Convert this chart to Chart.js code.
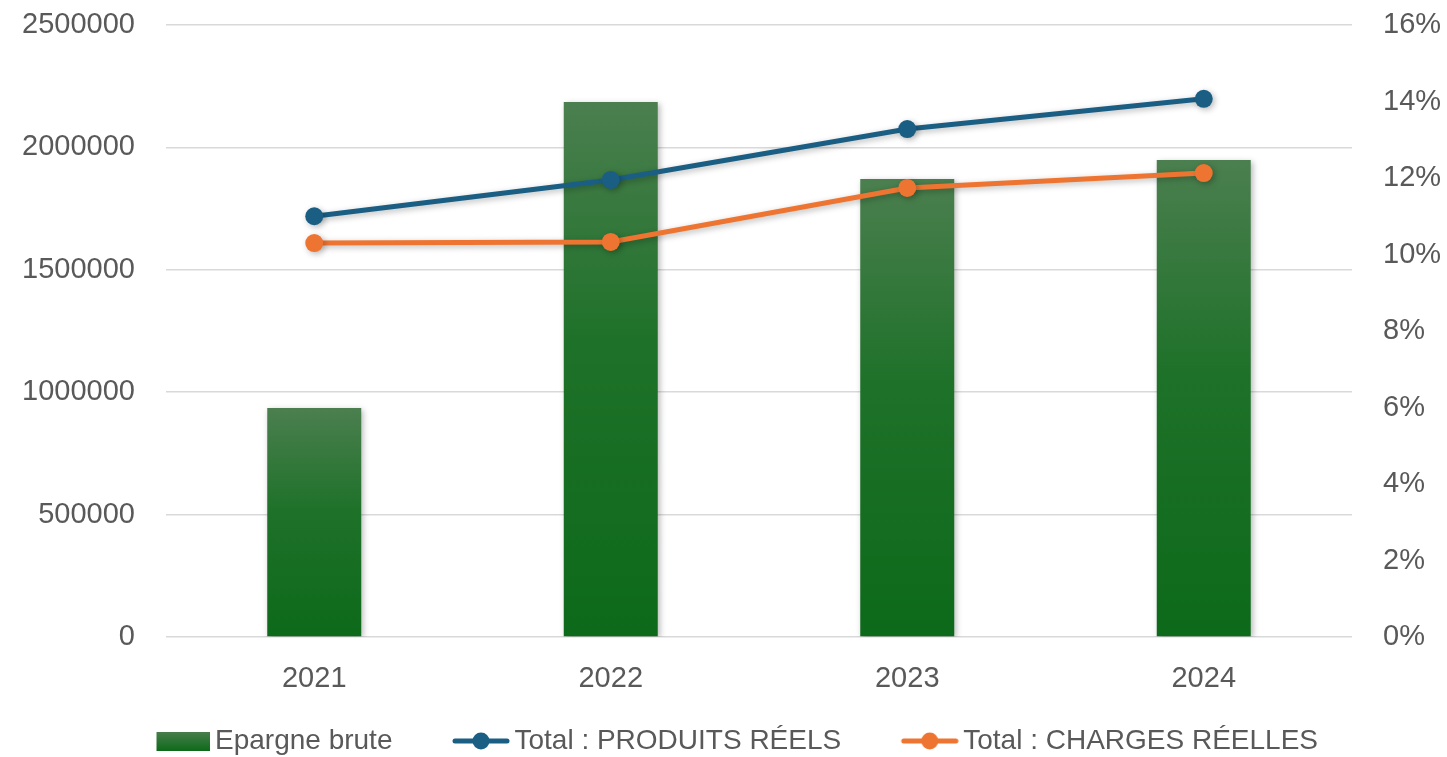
<!DOCTYPE html>
<html>
<head>
<meta charset="utf-8">
<script src="https://cdn.jsdelivr.net/npm/chart.js@4.4.1/dist/chart.umd.min.js"></script>
<style>
html,body{margin:0;padding:0;background:#fff;}
#wrap{width:1447px;height:757px;position:relative;}
</style>
</head>
<body>
<div id="wrap"><canvas id="c" width="1447" height="757"></canvas></div>
<script>
const categories = ['2021', '2022', '2023', '2024'];
const epargneBrute = [935000, 2185000, 1871000, 1949000];
const produitsReels = [11.0, 11.95, 13.28, 14.07];
const chargesReelles = [10.3, 10.33, 11.74, 12.13];
const leftTicks = [0, 500000, 1000000, 1500000, 2000000, 2500000];
const rightTicks = [0, 2, 4, 6, 8, 10, 12, 14, 16];

const GREEN_TOP = '#4b7f4f';
const GREEN_BOT = '#0d6a1a';
const BLUE = '#1b5e84';
const ORANGE = '#ee7531';
const TXT = '#595959';
const FONT = "'Liberation Sans', Arial, sans-serif";
const LEG_B = 96;           // legend slot width
const LEG_W = LEG_B + 19;   // legend image width

function legendImage(kind, color) {
  const c = document.createElement('canvas');
  c.width = LEG_W; c.height = 24;
  const x = c.getContext('2d');
  if (kind === 'box') {
    const g = x.createLinearGradient(0, 2, 0, 22);
    g.addColorStop(0, GREEN_TOP); g.addColorStop(1, GREEN_BOT);
    x.fillStyle = g; x.fillRect(LEG_W - 54, 3, 54, 19);
  } else {
    const x0 = LEG_W - 58;
    x.strokeStyle = color; x.lineWidth = 5; x.lineCap = 'round';
    x.beginPath(); x.moveTo(x0 + 3, 12); x.lineTo(x0 + 55, 12); x.stroke();
    x.fillStyle = color; x.beginPath(); x.arc(x0 + 29, 12, 8.5, 0, Math.PI * 2); x.fill();
  }
  return c;
}

const shadowPlugin = {
  id: 'shadow',
  afterLayout(chart) {
    if (chart.legend) { chart.legend.left -= 12; chart.legend.right -= 12; }
  },
  beforeDatasetDraw(chart) {
    const ctx = chart.ctx;
    ctx.save();
    ctx.shadowColor = 'rgba(0,0,0,0.28)';
    ctx.shadowBlur = 6;
    ctx.shadowOffsetX = 2;
    ctx.shadowOffsetY = 2;
  },
  afterDatasetDraw(chart) { chart.ctx.restore(); }
};

function barGradient(context) {
  const chart = context.chart;
  const area = chart.chartArea;
  if (!area || context.type !== 'data') return GREEN_BOT;
  const ys = chart.scales.y;
  const top = ys.getPixelForValue(context.raw);
  const bot = ys.getPixelForValue(0);
  const g = chart.ctx.createLinearGradient(0, top, 0, bot);
  g.addColorStop(0, GREEN_TOP);
  g.addColorStop(0.45, '#1e7129');
  g.addColorStop(1, GREEN_BOT);
  return g;
}

new Chart(document.getElementById('c'), {
  data: {
    labels: categories,
    datasets: [
      {
        type: 'bar', label: 'Epargne brute', data: epargneBrute, yAxisID: 'y',
        backgroundColor: barGradient, borderWidth: 0,
        barPercentage: 0.317, categoryPercentage: 1, order: 2
      },
      {
        type: 'line', label: 'Total : PRODUITS RÉELS', data: produitsReels, yAxisID: 'y1',
        borderColor: BLUE, backgroundColor: BLUE, borderWidth: 5,
        pointRadius: 9, pointHoverRadius: 9, pointBackgroundColor: BLUE, pointBorderWidth: 0,
        tension: 0, order: 0, pointStyle: 'circle'
      },
      {
        type: 'line', label: 'Total : CHARGES RÉELLES', data: chargesReelles, yAxisID: 'y1',
        borderColor: ORANGE, backgroundColor: ORANGE, borderWidth: 5,
        pointRadius: 9, pointHoverRadius: 9, pointBackgroundColor: ORANGE, pointBorderWidth: 0,
        tension: 0, order: 1, pointStyle: 'circle'
      }
    ]
  },
  options: {
    responsive: false,
    animation: false,
    layout: { padding: { top: 0, left: 0, right: 0, bottom: -8 } },
    plugins: {
      tooltip: { enabled: false },
      legend: {
        position: 'bottom',
        labels: {
          usePointStyle: true,
          pointStyleWidth: LEG_B,
          padding: 12,
          color: TXT,
          font: { family: FONT, size: 28 },
          generateLabels(chart) {
            const imgs = [legendImage('box'), legendImage('line', BLUE), legendImage('line', ORANGE)];
            return chart.data.datasets.map((ds, i) => ({
              text: ds.label, datasetIndex: i, pointStyle: imgs[i],
              fillStyle: 'transparent', strokeStyle: 'transparent', lineWidth: 0,
              fontColor: TXT, hidden: false
            }));
          }
        }
      }
    },
    scales: {
      x: {
        type: 'category',
        offset: true,
        grid: { display: false },
        border: { display: false },
        ticks: { color: TXT, font: { family: FONT, size: 29 }, padding: 17 },
        afterFit(s) { s.height = 78; }
      },
      y: {
        position: 'left', min: 0, max: 2500000,
        afterBuildTicks(s) { s.ticks = leftTicks.map(v => ({ value: v })); },
        grid: { color: '#d9d9d9', lineWidth: 1.5, drawTicks: false },
        border: { display: false },
        ticks: { color: TXT, font: { family: FONT, size: 29 }, padding: 31, callback: v => String(v) },
        afterFit(s) { s.width = 166; s.paddingTop = 25; s.paddingBottom = 0; }
      },
      y1: {
        position: 'right', min: 0, max: 16,
        afterBuildTicks(s) { s.ticks = rightTicks.map(v => ({ value: v })); },
        grid: { display: false, drawTicks: false },
        border: { display: false },
        ticks: { color: TXT, font: { family: FONT, size: 29 }, padding: 31, callback: v => v + '%' },
        afterFit(s) { s.width = 95; s.paddingTop = 25; s.paddingBottom = 0; }
      }
    }
  },
  plugins: [shadowPlugin]
});
</script>
</body>
</html>
